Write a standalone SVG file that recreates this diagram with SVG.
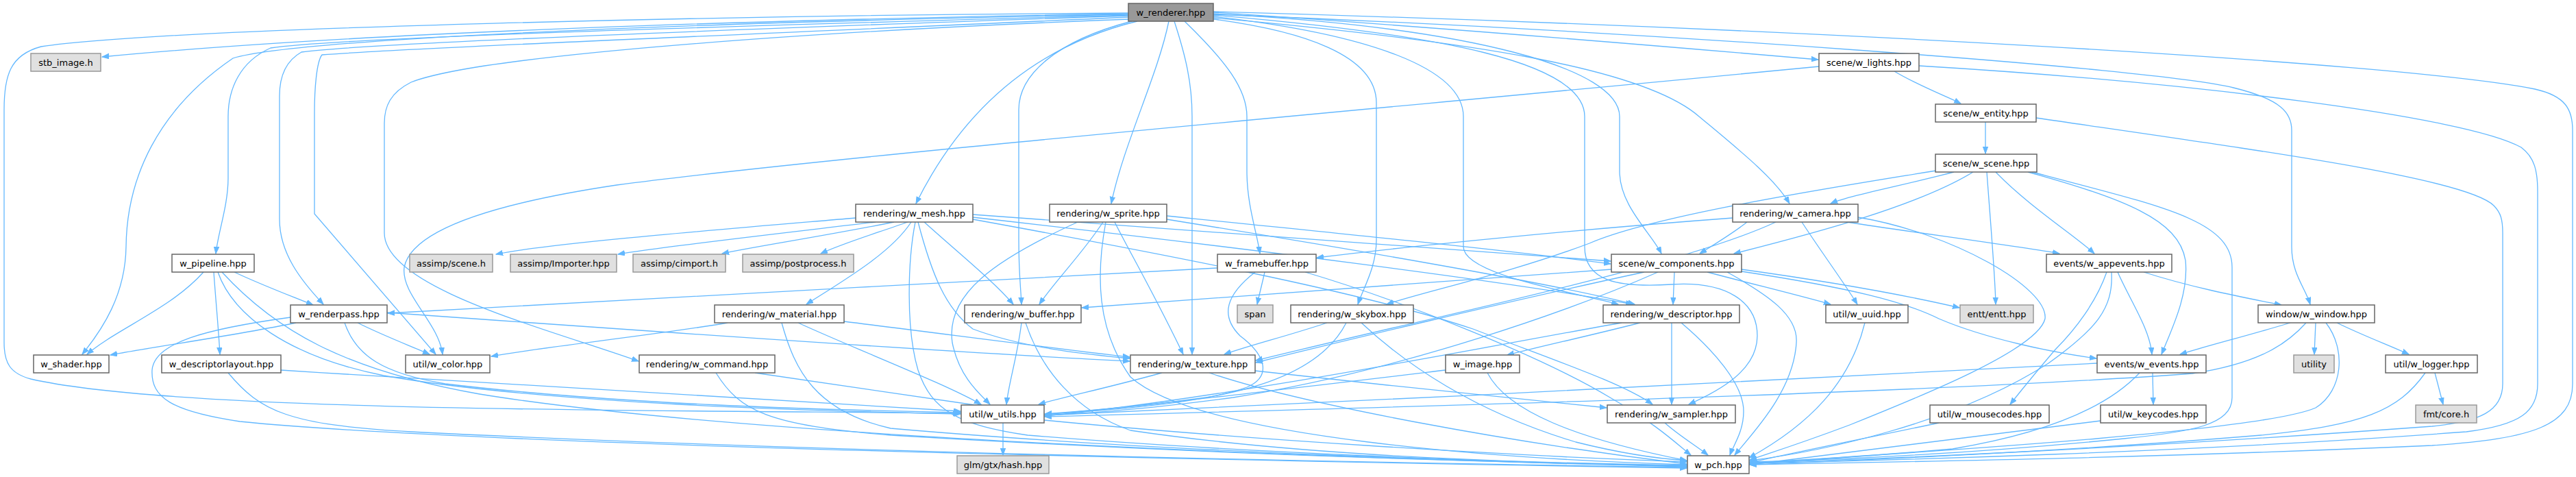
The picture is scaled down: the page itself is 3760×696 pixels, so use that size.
<svg xmlns="http://www.w3.org/2000/svg" width="3760" height="696" viewBox="0 0 3760 696">
<style>
.n rect{fill:#ffffff;stroke:#666666;stroke-width:1.5}
.m rect{fill:#999999;stroke:#666666;stroke-width:1.5}
.x rect{fill:#e0e0e0;stroke:#999999;stroke-width:1.5}
text{font-family:"DejaVu Sans","Liberation Sans",sans-serif;font-size:13px;text-anchor:middle;fill:#000000}
#edges path{fill:none;stroke:#63b8ff;stroke-width:1.3;marker-end:url(#a)}
</style>
<defs>
<marker id="a" markerWidth="11" markerHeight="9" refX="10" refY="4" orient="auto" markerUnits="userSpaceOnUse"><path d="M0,0.3 L10,4 L0,7.7 z" fill="#63b8ff" stroke="#63b8ff" stroke-width="1"/></marker>
</defs>
<rect width="3760" height="696" fill="#ffffff"/>
<g id="edges">
<path d="M1647,20 C1300,26 600,40 149,83"/>
<path d="M1647,19 C1100,22 250,40 60,68 C15,80 6,110 6,160 L6,500 C6,530 15,545 45,553 C250,600 900,598 1401,603"/>
<path d="M1648,21 C900,35 420,60 340,85 C230,160 185,260 184,360 C183,430 150,480 120,517"/>
<path d="M1648,22 C1000,40 500,55 395,70 C350,90 333,130 333,170 L333,260 C333,300 318,340 315,370"/>
<path d="M1648,23 C1000,45 520,65 440,76 C415,90 408,115 408,140 L408,320 C408,370 440,410 472,444"/>
<path d="M1648,25 C1100,50 600,70 470,80 C462,90 459,130 459,165 L459,312 L636,517"/>
<path d="M1648,28 C1200,45 700,80 600,120 C570,135 561,155 561,180 L561,340 C561,420 800,480 932,527"/>
<path d="M1660,31 C1500,70 1400,170 1337,297"/>
<path d="M1652,31 C1540,60 1487,110 1487,160 L1487,350 C1487,400 1490,420 1491,444"/>
<path d="M1706,31 C1690,110 1640,210 1622,297"/>
<path d="M1714,31 C1730,80 1740,120 1740,170 L1740,517"/>
<path d="M1729,31 C1790,90 1820,130 1820,170 L1820,250 C1820,300 1835,340 1839,370"/>
<path d="M1771,28 C1900,45 2009,80 2009,150 L2009,350 C2009,390 1990,420 1982,444"/>
<path d="M1771,24 C2000,50 2136,100 2136,170 L2136,360 C2136,400 2290,425 2362,444"/>
<path d="M1771,22 C2100,50 2313,90 2313,170 L2313,360 C2313,410 2360,420 2440,415 C2520,410 2565,440 2565,490 C2565,540 2510,570 2465,590"/>
<path d="M1771,20 C2150,40 2364,100 2364,170 L2364,250 C2364,300 2410,340 2425,370"/>
<path d="M1771,18 C2100,40 2400,65 2654,87"/>
<path d="M1771,26 C2150,60 2400,100 2480,170 C2540,220 2590,260 2612,297"/>
<path d="M1771,21 C2400,45 3150,100 3260,128 C3330,145 3345,165 3345,190 L3345,360 C3345,400 3365,420 3372,444"/>
<path d="M1771,17 C2600,40 3500,90 3700,130 C3745,140 3755,160 3755,190 L3755,560 C3755,620 3700,640 3550,650 C3100,670 2700,675 2554,678"/>
<path d="M2655,97 C2000,160 1200,230 900,270 C700,300 600,340 590,390 C585,430 640,470 646,517"/>
<path d="M2765,104 C2800,125 2840,140 2862,151"/>
<path d="M2801,96 C3200,120 3600,170 3680,215 C3700,230 3704,250 3704,280 L3704,560 C3704,600 3680,620 3600,630 C3200,660 2750,672 2554,676"/>
<path d="M2898,177 L2898,224"/>
<path d="M2972,172 C3300,220 3600,260 3640,300 C3650,310 3653,320 3653,340 L3653,560 C3653,600 3620,615 3550,622 C3100,655 2750,670 2554,675"/>
<path d="M2826,249 C2600,285 2400,320 2320,355 C2200,400 2080,425 2024,444"/>
<path d="M2852,251 C2780,270 2700,285 2672,297"/>
<path d="M2880,251 C2800,300 2650,340 2531,370"/>
<path d="M2900,251 C2905,320 2912,400 2913,444"/>
<path d="M2913,251 C2960,300 3030,345 3057,370"/>
<path d="M2960,251 C3100,290 3180,320 3190,380 C3195,430 3170,480 3155,517"/>
<path d="M2966,251 C3150,300 3258,320 3258,390 L3258,580 C3258,620 3200,630 3100,640 C2900,660 2700,670 2554,674"/>
<path d="M1249,318 C1050,335 800,355 724,371"/>
<path d="M1278,324 C1100,345 950,362 902,371"/>
<path d="M1305,324 C1200,345 1100,360 1054,370"/>
<path d="M1325,324 C1280,340 1230,355 1198,370"/>
<path d="M1330,324 C1300,370 1230,410 1177,444"/>
<path d="M1336,324 C1325,380 1322,480 1340,540 C1360,600 1400,620 1500,635 C1800,660 2200,675 2462,680"/>
<path d="M1340,324 C1360,400 1380,450 1420,480 C1500,510 1600,518 1649,523"/>
<path d="M1349,324 C1400,370 1450,410 1479,444"/>
<path d="M1420,313 C1800,340 2150,365 2351,381"/>
<path d="M1420,317 C1800,360 2200,410 2383,444"/>
<path d="M1420,320 C1750,380 2000,430 2150,480 C2280,530 2370,560 2412,590"/>
<path d="M1573,324 C1450,380 1380,430 1390,500 C1400,550 1430,575 1445,590"/>
<path d="M1610,324 C1580,370 1540,410 1517,444"/>
<path d="M1614,324 C1600,400 1600,480 1650,550 C1750,640 2200,670 2462,678"/>
<path d="M1627,324 C1650,370 1680,420 1727,517"/>
<path d="M1703,315 C1950,340 2200,365 2351,385"/>
<path d="M1703,320 C1950,360 2250,410 2386,444"/>
<path d="M2529,318 C2300,335 2050,360 1922,376"/>
<path d="M2550,324 C2530,340 2500,358 2481,370"/>
<path d="M2592,324 C2450,390 2100,460 1833,526"/>
<path d="M2630,324 C2660,370 2690,410 2711,444"/>
<path d="M2695,324 C2800,340 2950,360 3006,370"/>
<path d="M2712,317 C2850,340 2990,420 2985,465 C2975,510 2800,580 2700,620 C2620,650 2580,662 2554,671"/>
<path d="M297,397 C250,450 170,480 127,517"/>
<path d="M312,397 C315,440 319,480 321,517"/>
<path d="M342,397 C380,415 420,430 457,445"/>
<path d="M318,397 C340,460 420,520 560,548 C800,590 1200,600 1402,604"/>
<path d="M324,397 C400,480 500,540 700,575 C1100,640 2000,670 2462,681"/>
<path d="M432,471 C340,490 230,505 161,518"/>
<path d="M424,463 C300,480 225,500 222,540 C220,580 250,600 350,615 C700,650 1800,672 2462,683"/>
<path d="M522,471 C560,490 600,505 627,517"/>
<path d="M565,456 C900,480 1400,515 1649,527"/>
<path d="M503,471 C520,520 560,545 650,560 C900,590 1200,598 1402,602"/>
<path d="M410,540 C800,565 1200,590 1402,600"/>
<path d="M333,544 C380,600 420,620 600,630 C1200,660 2000,675 2462,682"/>
<path d="M1062,471 C950,490 800,505 717,520"/>
<path d="M1232,469 C1400,490 1550,510 1649,521"/>
<path d="M1165,471 C1250,510 1380,560 1432,590"/>
<path d="M1141,471 C1160,540 1190,600 1300,625 C1700,660 2200,675 2462,680"/>
<path d="M1491,471 C1485,520 1472,560 1469,590"/>
<path d="M1497,471 C1520,540 1570,600 1650,628 C1900,665 2200,675 2462,679"/>
<path d="M1102,544 C1250,565 1380,585 1437,593"/>
<path d="M1045,544 C1080,600 1120,620 1300,635 C1800,665 2200,675 2462,680"/>
<path d="M1777,391 C1400,410 900,440 566,457"/>
<path d="M1846,397 C1842,415 1838,430 1835,444"/>
<path d="M1832,397 C1790,430 1780,460 1810,490 C1850,520 1855,550 1820,565 C1750,590 1600,600 1525,604"/>
<path d="M1905,397 C2050,440 2250,520 2350,580 C2420,620 2450,650 2468,664"/>
<path d="M2352,393 C2100,410 1800,435 1579,449"/>
<path d="M2400,397 C2200,440 1950,500 1833,529"/>
<path d="M2420,397 C2300,450 2050,540 1800,580 C1650,600 1580,603 1525,606"/>
<path d="M2444,397 L2442,444"/>
<path d="M2492,397 C2560,415 2630,432 2672,444"/>
<path d="M2521,397 C2580,430 2625,460 2622,500 C2618,570 2560,630 2532,664"/>
<path d="M2542,393 C2700,415 2800,435 2860,449"/>
<path d="M2542,396 C2700,420 2780,440 2830,465 C2900,495 3000,515 3060,523"/>
<path d="M3129,397 C3200,420 3280,435 3330,445"/>
<path d="M3091,397 C3110,440 3138,480 3141,517"/>
<path d="M3075,397 C3060,440 3030,480 3000,510 C2970,545 2950,570 2934,590"/>
<path d="M3082,397 C3085,450 3060,480 2990,530 C2850,620 2650,660 2554,672"/>
<path d="M3343,471 C3280,490 3220,505 3182,517"/>
<path d="M3366,471 C3340,500 3300,530 3200,545 C2800,575 1900,598 1525,608"/>
<path d="M3380,471 L3378,517"/>
<path d="M3395,471 C3425,510 3420,570 3380,595 C3300,630 2800,660 2554,676"/>
<path d="M3411,471 C3450,490 3490,505 3516,517"/>
<path d="M3061,530 C2800,545 2000,585 1525,606"/>
<path d="M3123,544 C3080,590 3000,630 2850,655 C2700,668 2600,673 2554,677"/>
<path d="M3142,544 L3143,590"/>
<path d="M3554,544 L3566,590"/>
<path d="M3540,544 C3500,600 3450,620 3300,635 C3000,660 2700,672 2554,678"/>
<path d="M2830,617 C2720,640 2620,660 2554,675"/>
<path d="M3066,614 C2850,640 2650,665 2554,678"/>
<path d="M1937,471 C1880,490 1820,505 1787,517"/>
<path d="M1965,471 C1940,520 1880,560 1760,580 C1650,595 1580,600 1525,604"/>
<path d="M1987,471 C2050,530 2150,600 2300,645 C2380,665 2430,670 2462,672"/>
<path d="M2394,471 C2320,490 2250,505 2200,518"/>
<path d="M2367,471 C2200,500 1800,580 1525,607"/>
<path d="M2440,471 L2440,590"/>
<path d="M2454,471 C2500,510 2545,560 2545,600 C2545,630 2530,650 2525,664"/>
<path d="M1696,544 C1620,565 1550,580 1516,590"/>
<path d="M1832,541 C2000,560 2200,580 2345,595"/>
<path d="M1765,544 C1900,590 2200,645 2462,677"/>
<path d="M2110,540 C1900,565 1650,595 1525,605"/>
<path d="M2171,544 C2200,600 2300,640 2462,672"/>
<path d="M2722,471 C2700,560 2640,620 2553,668"/>
<path d="M2430,617 C2450,635 2475,650 2493,664"/>
<path d="M1464,617 L1464,664"/>
<path d="M1524,613 C1800,640 2200,665 2462,674"/>
</g>
<g id="w_renderer" class="m"><rect x="1647" y="5" width="124" height="26"/><text x="1709" y="22.5">w_renderer.hpp</text></g>
<g id="stb_image" class="x"><rect x="45" y="78" width="102" height="26"/><text x="96" y="95.5">stb_image.h</text></g>
<g id="w_lights" class="n"><rect x="2655" y="78" width="146" height="26"/><text x="2728" y="95.5">scene/w_lights.hpp</text></g>
<g id="w_entity" class="n"><rect x="2825" y="152" width="147" height="26"/><text x="2898.5" y="169.5">scene/w_entity.hpp</text></g>
<g id="w_scene" class="n"><rect x="2825" y="225" width="148" height="26"/><text x="2899" y="242.5">scene/w_scene.hpp</text></g>
<g id="w_mesh" class="n"><rect x="1249" y="298" width="171" height="26"/><text x="1334.5" y="315.5">rendering/w_mesh.hpp</text></g>
<g id="w_sprite" class="n"><rect x="1532" y="298" width="171" height="26"/><text x="1617.5" y="315.5">rendering/w_sprite.hpp</text></g>
<g id="w_camera" class="n"><rect x="2529" y="298" width="183" height="26"/><text x="2620.5" y="315.5">rendering/w_camera.hpp</text></g>
<g id="w_pipeline" class="n"><rect x="251" y="371" width="120" height="26"/><text x="311" y="388.5">w_pipeline.hpp</text></g>
<g id="assimp_scene" class="x"><rect x="598" y="371" width="121" height="26"/><text x="658.5" y="388.5">assimp/scene.h</text></g>
<g id="assimp_importer" class="x"><rect x="745" y="371" width="155" height="26"/><text x="822.5" y="388.5">assimp/Importer.hpp</text></g>
<g id="assimp_cimport" class="x"><rect x="924" y="371" width="135" height="26"/><text x="991.5" y="388.5">assimp/cimport.h</text></g>
<g id="assimp_postprocess" class="x"><rect x="1084" y="371" width="162" height="26"/><text x="1165" y="388.5">assimp/postprocess.h</text></g>
<g id="w_framebuffer" class="n"><rect x="1777" y="371" width="144" height="26"/><text x="1849" y="388.5">w_framebuffer.hpp</text></g>
<g id="w_components" class="n"><rect x="2352" y="371" width="190" height="26"/><text x="2447" y="388.5">scene/w_components.hpp</text></g>
<g id="w_appevents" class="n"><rect x="2987" y="371" width="183" height="26"/><text x="3078.5" y="388.5">events/w_appevents.hpp</text></g>
<g id="w_renderpass" class="n"><rect x="424" y="445" width="141" height="26"/><text x="494.5" y="462.5">w_renderpass.hpp</text></g>
<g id="w_material" class="n"><rect x="1043" y="445" width="189" height="26"/><text x="1137.5" y="462.5">rendering/w_material.hpp</text></g>
<g id="w_buffer" class="n"><rect x="1408" y="445" width="170" height="26"/><text x="1493" y="462.5">rendering/w_buffer.hpp</text></g>
<g id="span" class="x"><rect x="1806" y="445" width="52" height="26"/><text x="1832" y="462.5">span</text></g>
<g id="w_skybox" class="n"><rect x="1884" y="445" width="179" height="26"/><text x="1973.5" y="462.5">rendering/w_skybox.hpp</text></g>
<g id="w_descriptor" class="n"><rect x="2340" y="445" width="199" height="26"/><text x="2439.5" y="462.5">rendering/w_descriptor.hpp</text></g>
<g id="w_uuid" class="n"><rect x="2665" y="445" width="120" height="26"/><text x="2725" y="462.5">util/w_uuid.hpp</text></g>
<g id="entt" class="x"><rect x="2861" y="445" width="107" height="26"/><text x="2914.5" y="462.5">entt/entt.hpp</text></g>
<g id="w_window" class="n"><rect x="3296" y="445" width="170" height="26"/><text x="3381" y="462.5">window/w_window.hpp</text></g>
<g id="w_shader" class="n"><rect x="49" y="518" width="110" height="26"/><text x="104" y="535.5">w_shader.hpp</text></g>
<g id="w_descriptorlayout" class="n"><rect x="236" y="518" width="174" height="26"/><text x="323" y="535.5">w_descriptorlayout.hpp</text></g>
<g id="w_color" class="n"><rect x="592" y="518" width="123" height="26"/><text x="653.5" y="535.5">util/w_color.hpp</text></g>
<g id="w_command" class="n"><rect x="933" y="518" width="198" height="26"/><text x="1032" y="535.5">rendering/w_command.hpp</text></g>
<g id="w_texture" class="n"><rect x="1650" y="518" width="182" height="26"/><text x="1741" y="535.5">rendering/w_texture.hpp</text></g>
<g id="w_image" class="n"><rect x="2110" y="518" width="108" height="26"/><text x="2164" y="535.5">w_image.hpp</text></g>
<g id="w_events" class="n"><rect x="3061" y="518" width="159" height="26"/><text x="3140.5" y="535.5">events/w_events.hpp</text></g>
<g id="utility" class="x"><rect x="3348" y="518" width="59" height="26"/><text x="3377.5" y="535.5">utility</text></g>
<g id="w_logger" class="n"><rect x="3482" y="518" width="134" height="26"/><text x="3549" y="535.5">util/w_logger.hpp</text></g>
<g id="w_utils" class="n"><rect x="1403" y="591" width="121" height="26"/><text x="1463.5" y="608.5">util/w_utils.hpp</text></g>
<g id="w_sampler" class="n"><rect x="2346" y="591" width="187" height="26"/><text x="2439.5" y="608.5">rendering/w_sampler.hpp</text></g>
<g id="w_mousecodes" class="n"><rect x="2817" y="591" width="174" height="26"/><text x="2904" y="608.5">util/w_mousecodes.hpp</text></g>
<g id="w_keycodes" class="n"><rect x="3066" y="591" width="154" height="26"/><text x="3143" y="608.5">util/w_keycodes.hpp</text></g>
<g id="fmt_core" class="x"><rect x="3526" y="591" width="89" height="26"/><text x="3570.5" y="608.5">fmt/core.h</text></g>
<g id="glm_hash" class="x"><rect x="1397" y="665" width="134" height="26"/><text x="1464" y="682.5">glm/gtx/hash.hpp</text></g>
<g id="w_pch" class="n"><rect x="2463" y="665" width="90" height="26"/><text x="2508" y="682.5">w_pch.hpp</text></g>
</svg>
